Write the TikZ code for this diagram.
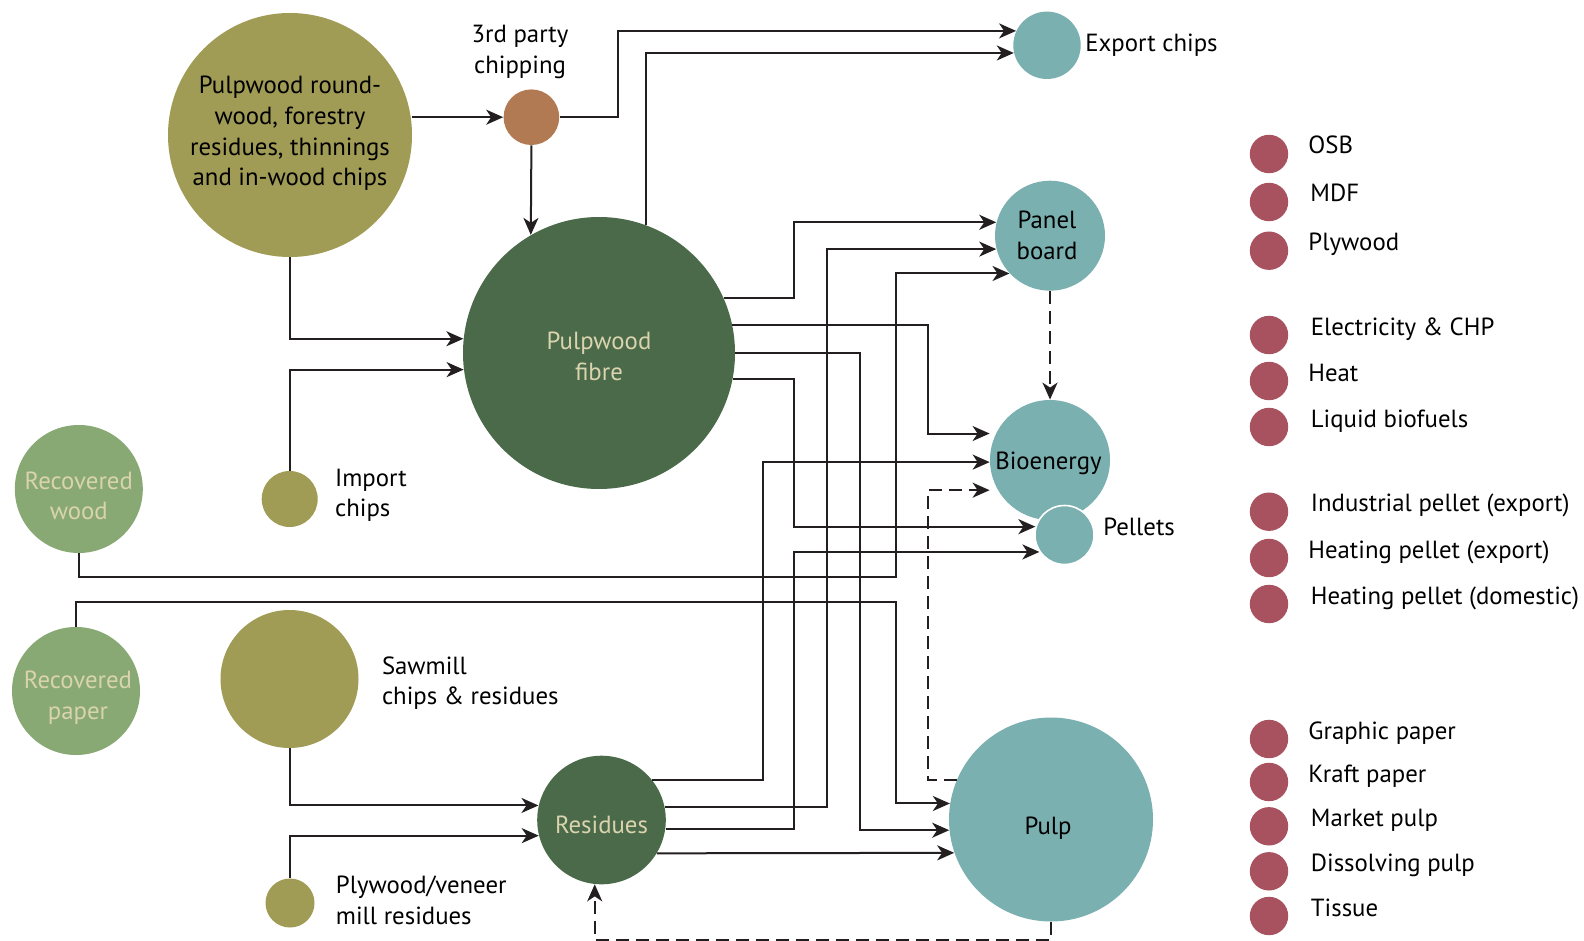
\documentclass[tikz,border=0pt]{standalone}
\usepackage{fontspec}
\setmainfont{PT Sans}
\usetikzlibrary{arrows.meta}

\definecolor{woodolive}{HTML}{A09B55}
\definecolor{chipbrown}{HTML}{B27A52}
\definecolor{fibregreen}{HTML}{4A6A4A}
\definecolor{recovgreen}{HTML}{88A874}
\definecolor{useteal}{HTML}{7AB0AF}
\definecolor{prodred}{HTML}{A8525F}
\definecolor{textbeige}{HTML}{D9D3AE}
\definecolor{linegrey}{HTML}{231F20}

\begin{document}
\begin{tikzpicture}[x = 0.5pt, y = -0.5pt, > = {Stealth[length = 8.5pt, width = 7.5pt, inset = 2.5pt]},
	font = \fontsize{12.4}{15.35}\selectfont,
	blob/.style = {circle, inner sep = 0},
	feed/.style = {blob, fill = woodolive},
	mill/.style = {blob, fill = fibregreen},
	recov/.style = {blob, fill = recovgreen},
	enduse/.style = {blob, fill = useteal},
	prod/.style = {blob, fill = prodred, minimum size = 19.2pt},
	lbl/.style = {inner sep = 0, align = left},
	intxt/.style = {inner sep = 0, align = center},
	lighttxt/.style = {intxt, text = textbeige},
	flow/.style = {->, line width = 1pt, draw = linegrey},
	backflow/.style = {flow, dash pattern = on 6.5pt off 3.5pt}]

	\useasboundingbox [fill = white] (0, 0) rectangle (1584, 941);

	% Sources

	\node (wood) [feed, minimum size = 122pt] at (290, 135) {};
	\node (woodtxt) [intxt] at (290, 133.5) {Pulpwood round-\\wood, forestry\\residues, thinnings\\and in-wood chips};
	\node (chip) [blob, fill = chipbrown, minimum size = 27.8pt] at (531.4, 117.2) {};
	\node (chiplbl) [intxt, anchor = base] at (520, 73.4) {3rd party\\chipping};
	\node (import) [feed, minimum size = 28pt] at (289.7, 499) {};
	\node (importlbl) [lbl, anchor = base west] at (334.7, 516.7) {Import\\chips};
	\node (rwood) [recov, minimum size = 64pt] at (78.8, 489) {};
	\node (rwoodtxt) [lighttxt] at (78.8, 496) {Recovered\\wood};
	\node (rpaper) [recov, minimum size = 64pt] at (76, 691) {};
	\node (rpapertxt) [lighttxt] at (78, 698) {Recovered\\paper};
	\node (saw) [feed, minimum size = 69pt] at (289.5, 679) {};
	\node (sawlbl) [lbl, anchor = base west] at (381.6, 704.7) {Sawmill\\chips \& residues};
	\node (ply) [feed, minimum size = 24.5pt] at (290, 903) {};
	\node (plylbl) [lbl, anchor = base west] at (335.5, 924.5) {Plywood/veneer\\mill residues};

	% Intermediate streams

	\node (fibre) [mill, minimum size = 136pt] at (599, 353) {};
	\node (fibretxt) [lighttxt] at (599, 356.5) {Pulpwood\\fibre};
	\node (res) [mill, minimum size = 64.3pt] at (601.5, 820) {};
	\node (restxt) [lighttxt] at (601.5, 825) {Residues};

	% End uses

	\node (export) [enduse, minimum size = 33.7pt] at (1047, 45.3) {};
	\node (exportlbl) [lbl, anchor = base west] at (1085, 51.5) {Export chips};
	\node (panel) [enduse, minimum size = 55pt] at (1050, 235.7) {};
	\node (paneltxt) [intxt] at (1047, 235.7) {Panel\\board};
	\node (bio) [enduse, minimum size = 60pt] at (1050, 460) {};
	\node (biotxt) [intxt] at (1048.5, 463) {Bioenergy};
	\node (pellets) [enduse, draw = white, line width = 0.8pt, minimum size = 29.5pt] at (1064.5, 535) {};
	\node (pelletslbl) [lbl, anchor = base west] at (1103, 535.5) {Pellets};
	\node (pulp) [enduse, minimum size = 102pt] at (1051, 819.5) {};
	\node (pulptxt) [intxt] at (1048, 828.5) {Pulp};

	% Products

	\foreach \n / \y / \x / \txt in {osb/154/1308/OSB, mdf/202/1310/MDF, plyw/250.7/1308/Plywood,
		elec/335/1310.5/Electricity \& CHP, heat/381/1308/Heat, fuel/427/1310.5/Liquid biofuels,
		ipel/511.7/1310.5/Industrial pellet (export), hpel/558/1308/Heating pellet (export),
		dpel/604/1310.5/Heating pellet (domestic), graph/739/1308/Graphic paper,
		kraft/782/1308/Kraft paper, market/826.3/1310.5/Market pulp,
		diss/871.3/1310.5/Dissolving pulp, tissue/916/1310.5/Tissue}
	{
		\node (dot-\n) [prod] at (1269, \y) {};
		\node (txt-\n) [lbl, anchor = base west] at (\x, \y) {\txt};
	}

	% Columns for the flows

	\coordinate (colA) at (618, 0);
	\coordinate (col1) at (763, 0);
	\coordinate (col2) at (794, 0);
	\coordinate (col3) at (827, 0);
	\coordinate (col4) at (860, 0);
	\coordinate (col6) at (927.5, 0);
	\coordinate (wbend) at (895.5, 576.7);
	\coordinate (pbend) at (895.5, 602);

	% Flows

	\draw [flow] (wood.east |- chip) -- (chip);
	\draw [flow] (chip.south) -- (fibre.120);
	\draw [flow] (chip.east) -| (colA |- export.155) -- (export.155);
	\draw [flow] (fibre.70) |- (export.193);
	\draw [flow] (wood.south) |- (fibre.174);
	\draw [flow] (import.north) |- (fibre.187);
	\draw [flow] (fibre.24) -| (col2 |- panel.166) -- (panel.166);
	\draw [flow] (fibre.12) -| (col6 |- bio.154) -- (bio.west |- bio.154);
	\draw [flow] (fibre.east) -| (col4 |- pulp.186) -- (pulp.186);
	\draw [flow] (fibre.-11) -| (col2 |- pellets.164) -- (pellets.164);
	\draw [flow] (res.38) -| (col1 |- bio.182) -- (bio.182);
	\draw [flow] (res.12) -| (col3 |- panel.194) -- (panel.194);
	\draw [flow] (res.-8) -| (col2 |- pellets.214) -- (pellets.214);
	\draw [flow] (res.-31) -- (pulp.199);
	\draw [flow] (rwood.south) |- (wbend) |- (panel.223);
	\draw [flow] (rpaper.north) |- (pbend) |- (pulp.171);
	\draw [flow] (saw.south) |- (res.167);
	\draw [flow] (ply.north) |- (res.194);

	% Returns

	\draw [backflow] (panel.south) -- (bio.north);
	\draw [backflow] (pulp.157) -| (col6 |- bio.210) -- (bio.west |- bio.210);
	\draw [backflow] (pulp.south) -- ++(0, 18) -| (res.264);

\end{tikzpicture}
\end{document}
